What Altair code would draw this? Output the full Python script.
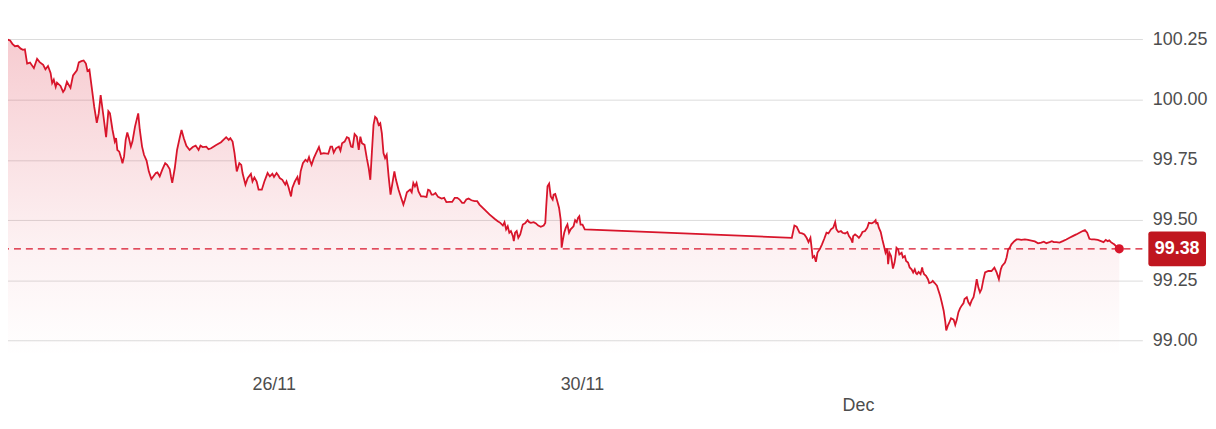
import altair as alt
import pandas as pd

# hours since the start of the window (22/11 ~12:00) and the price
hours = [
    0.0, 1.0, 1.9, 2.6, 3.4, 4.3, 5.2, 5.9, 6.5, 7.2, 8.1, 9.3, 10.3, 11.1, 12.2, 12.9,
    13.7, 14.5, 15.0, 15.5, 16.1, 16.5, 17.6, 18.4, 18.9, 19.6, 20.7, 21.5, 22.7, 23.3,
    24.1, 24.8, 25.5, 26.0, 26.6, 27.3, 28.1, 28.9, 29.5, 30.1, 31.0, 31.8, 32.5, 33.0,
    33.8, 34.5, 34.9, 35.3, 35.9, 36.5, 36.9, 37.4, 37.9, 38.4, 38.9, 39.5, 40.0, 40.8,
    41.8, 42.3, 43.0, 43.6, 44.4, 45.1, 45.9, 46.5, 47.3, 47.8, 48.5, 49.3, 50.2, 50.8,
    51.6, 52.0, 52.4, 53.2, 53.9, 54.7, 55.3, 56.0, 56.8, 57.8, 58.8, 59.7, 60.6, 61.2,
    61.9, 63.0, 63.7, 64.5, 66.1, 67.6, 69.2, 70.0, 70.5, 71.2, 71.8, 72.5, 73.3, 73.9,
    74.3, 75.2, 75.9, 76.9,
    77.4, 78.0, 78.7, 79.3, 80.3, 81.1, 82.1, 82.8, 83.6, 84.1, 84.9, 85.5, 85.9, 86.7,
    87.6, 88.0, 88.6, 89.4, 89.8, 90.6, 91.4, 91.9, 92.4, 93.1, 93.9, 94.5, 95.0, 95.3,
    95.8, 96.5, 97.2, 98.1, 98.7, 99.6, 101.0, 101.7, 102.2, 102.7, 103.4, 104.3, 104.8,
    105.3, 106.1, 106.8, 107.4, 108.1, 108.6, 109.2, 109.9, 110.5, 111.0, 111.5, 112.3,
    113.0, 113.6, 114.1, 114.6, 115.1, 115.6, 116.1, 116.7, 117.2, 117.7, 118.2, 118.7,
    119.2, 119.8, 120.4, 121.0, 121.6, 122.1, 122.9, 123.7, 124.4, 124.9, 125.5, 126.5,
    127.0, 127.5, 128.0, 128.5, 129.1, 129.9, 130.6, 131.6, 132.1, 132.6, 133.2, 133.7,
    134.4, 135.2, 136.3, 137.1, 137.8, 138.8, 139.6, 140.4, 141.2, 141.9, 142.7, 143.3,
    144.0, 144.7, 145.6, 146.6, 147.4, 148.1, 149.7, 151.2, 152.8, 153.8,
    154.6, 155.4, 155.9, 156.4, 156.9, 157.4, 157.9, 158.5, 158.8, 159.2, 159.7, 160.2,
    160.8, 161.6, 162.3, 163.1, 163.6, 164.1, 165.0, 165.7, 166.4, 167.2, 168.1, 168.6,
    168.9, 169.3, 169.8, 170.3, 170.9, 171.2, 171.7, 172.2, 172.9, 173.4, 173.7, 174.1,
    174.5, 175.0, 175.5, 176.0, 176.5, 177.4, 177.9, 178.4, 178.8, 179.2, 179.6, 180.2,
    180.9,
    245.4, 246.2, 246.9, 247.8, 248.6, 249.3, 250.0, 250.6, 251.2, 251.6, 251.9, 252.4,
    252.9, 253.4, 254.2, 254.8, 255.5, 256.2, 256.8, 257.6, 258.3, 258.9, 259.3, 259.9,
    260.7, 261.2, 262.0, 262.7, 263.2, 263.8, 264.3, 264.5, 265.1, 265.8, 266.3, 266.9,
    267.4, 268.2, 268.9, 269.4, 270.3, 271.0, 271.5, 271.7, 272.1, 272.5, 273.1, 273.6,
    274.1, 274.6, 275.1, 275.4, 275.8, 276.3, 276.9, 277.4, 277.7, 278.0, 278.5, 278.9,
    279.6, 280.0, 280.6, 281.0, 281.6, 282.1, 282.7, 283.2, 283.7, 284.1, 284.4, 284.9,
    285.5, 286.0, 286.2, 286.6, 287.2, 287.8, 288.2, 288.9, 289.3, 289.9, 290.6, 291.1,
    291.6, 292.1, 292.7, 293.2, 293.5, 294.0, 294.4, 295.0, 295.8, 296.3, 296.8, 297.3,
    297.8, 298.3, 298.9, 299.2, 299.9, 300.4, 300.9, 301.4, 302.0, 302.5, 303.0, 303.5,
    304.0, 304.5, 305.1, 305.6, 306.6, 307.6, 308.5, 309.2, 309.9, 310.5, 310.9, 311.8,
    312.3, 312.8, 313.3, 313.8, 314.7, 315.4, 316.1, 316.9, 318.0, 319.0, 320.0, 321.1,
    322.1, 323.1, 323.9, 324.7, 325.2, 325.7, 326.4, 327.0, 327.8, 328.8, 329.8, 330.9,
    331.9, 332.9, 334.0, 335.0, 336.0, 336.7, 337.4, 338.1, 338.8, 339.6, 340.7, 341.7,
    342.5, 343.2, 343.8, 344.3, 344.8, 345.3, 345.8, 346.3, 346.9, 347.4,
]
price = [
    100.242, 100.250, 100.246, 100.232, 100.222, 100.224, 100.212, 100.207, 100.209, 100.150,
    100.154, 100.131, 100.170, 100.156, 100.145, 100.126, 100.140, 100.111, 100.069, 100.083,
    100.053, 100.071, 100.057, 100.032, 100.042, 100.074, 100.049, 100.101, 100.122, 100.155,
    100.160, 100.163, 100.150, 100.119, 100.125, 100.053, 99.970, 99.904, 99.943, 100.019,
    99.929, 99.844, 99.952, 99.943, 99.874, 99.826, 99.840, 99.791, 99.784, 99.757,
    99.736, 99.764, 99.833, 99.864, 99.840, 99.805, 99.826, 99.888, 99.943, 99.874,
    99.805, 99.771, 99.747, 99.702, 99.670, 99.681, 99.695, 99.698, 99.681, 99.709,
    99.736, 99.729, 99.712, 99.681, 99.654, 99.716, 99.791, 99.840, 99.874, 99.840,
    99.808, 99.791, 99.803, 99.809, 99.791, 99.809, 99.803, 99.805, 99.794, 99.798,
    99.812, 99.823, 99.844, 99.833, 99.840, 99.826, 99.778, 99.702, 99.736, 99.729,
    99.695, 99.647, 99.674, 99.692,
    99.660, 99.677, 99.660, 99.626, 99.626, 99.660, 99.695, 99.681, 99.692, 99.679,
    99.695, 99.684, 99.674, 99.667, 99.647, 99.660, 99.637, 99.598, 99.633, 99.660,
    99.679, 99.647, 99.702, 99.736, 99.750, 99.743, 99.761, 99.747, 99.729, 99.757,
    99.778, 99.803, 99.775, 99.778, 99.775, 99.805, 99.805, 99.780, 99.798, 99.805,
    99.788, 99.819, 99.826, 99.844, 99.840, 99.805, 99.803, 99.857, 99.846, 99.791,
    99.846, 99.819, 99.812, 99.757, 99.716, 99.667, 99.784, 99.895, 99.929, 99.922,
    99.895, 99.902, 99.860, 99.778, 99.757, 99.771, 99.681, 99.605, 99.654, 99.702,
    99.667, 99.626, 99.592, 99.564, 99.585, 99.615, 99.626, 99.615, 99.654, 99.640,
    99.654, 99.619, 99.598, 99.598, 99.596, 99.626, 99.623, 99.605, 99.605, 99.612,
    99.596, 99.589, 99.592, 99.574, 99.575, 99.575, 99.592, 99.592, 99.585, 99.571,
    99.571, 99.585, 99.589, 99.582, 99.578, 99.578, 99.564, 99.543, 99.523, 99.505,
    99.495,
    99.488, 99.477, 99.491, 99.461, 99.474, 99.447, 99.454, 99.433, 99.412, 99.447,
    99.454, 99.426, 99.440, 99.481, 99.486, 99.499, 99.491, 99.488, 99.491, 99.486,
    99.477, 99.472, 99.477, 99.488, 99.557, 99.640, 99.651, 99.598, 99.585, 99.605,
    99.608, 99.585, 99.550, 99.502, 99.385, 99.419, 99.447, 99.468, 99.481, 99.447,
    99.461, 99.474, 99.499, 99.491, 99.509, 99.516, 99.481, 99.481, 99.461,
    99.426, 99.477, 99.472, 99.447, 99.444, 99.440, 99.426, 99.408, 99.426, 99.381,
    99.344, 99.350, 99.326, 99.365, 99.381, 99.399, 99.422, 99.447, 99.444, 99.461,
    99.468, 99.491, 99.461, 99.450, 99.454, 99.447, 99.444, 99.450, 99.433, 99.422,
    99.406, 99.433, 99.440, 99.433, 99.426, 99.436, 99.450, 99.454, 99.468, 99.488,
    99.486, 99.491, 99.499, 99.486, 99.488, 99.468, 99.450, 99.419, 99.392, 99.364,
    99.381, 99.316, 99.364, 99.350, 99.298, 99.323, 99.350, 99.385, 99.378, 99.357,
    99.364, 99.344, 99.350, 99.330, 99.323, 99.303, 99.295, 99.282, 99.295, 99.279,
    99.275, 99.284, 99.275, 99.303, 99.289, 99.275, 99.268, 99.254, 99.238, 99.241,
    99.247, 99.238, 99.227, 99.206, 99.185, 99.158, 99.123, 99.078, 99.041, 99.061,
    99.072, 99.092, 99.086, 99.064, 99.086, 99.117, 99.133, 99.144, 99.155, 99.172,
    99.179, 99.158, 99.147, 99.165, 99.179, 99.213, 99.254, 99.220, 99.199, 99.213,
    99.254, 99.282, 99.288, 99.288, 99.302, 99.282, 99.254, 99.295, 99.309, 99.323,
    99.344, 99.378, 99.385, 99.399, 99.412, 99.419, 99.419, 99.417, 99.419, 99.417,
    99.414, 99.411, 99.403, 99.406, 99.410, 99.403, 99.406, 99.408, 99.412, 99.408,
    99.408, 99.406, 99.412, 99.419, 99.426, 99.433, 99.440, 99.447, 99.454, 99.458,
    99.447, 99.422, 99.419, 99.419, 99.417, 99.412, 99.408, 99.417, 99.412, 99.415,
    99.408, 99.403, 99.399, 99.392, 99.385, 99.380,
]

tick_hours = [84, 180, 266]
tick_text = ["26/11", "30/11", "Dec"]
tick_row = [0, 0, 1]  # the month label sits on a second line

price_ticks = [99.0, 99.25, 99.5, 99.75, 100.0, 100.25]

RED = "#d8152b"
BOX = "#c0161f"
FONT = "Liberation Sans"
W, H = 1145, 350
y_lo, y_hi = 98.93, 100.376

# rounded box behind the last-price label (symbol path in the -1..1 square)
BOX_W = 58
BOX_PATH = (
    "M-0.9,-0.6 L0.9,-0.6 Q1,-0.6 1,-0.5 L1,0.5 Q1,0.6 0.9,0.6 "
    "L-0.9,0.6 Q-1,0.6 -1,0.5 L-1,-0.5 Q-1,-0.6 -0.9,-0.6 Z"
)

df = pd.DataFrame({"h": hours, "price": price})
last = df.tail(1).copy()
last["label"] = last["price"].map(lambda v: f"{v:.2f}")

label_expr = ""
for t, s, r in zip(tick_hours, tick_text, tick_row):
    txt = f"['', '{s}']" if r else f"'{s}'"
    label_expr += f"datum.value == {t} ? {txt} : "
label_expr += "''"

x_enc = alt.X(
    "h:Q",
    scale=alt.Scale(domain=[0, 354.6], nice=False, zero=False),
    axis=alt.Axis(
        values=tick_hours,
        labelExpr=label_expr,
        grid=False,
        domain=False,
        ticks=False,
        labelPadding=19,
        labelFontSize=18,
        labelFont=FONT,
        labelColor="#4d4d4d",
        labelLineHeight=21,
        labelFlush=False,
        title=None,
    ),
)
y_enc = alt.Y(
    "price:Q",
    scale=alt.Scale(domain=[y_lo, y_hi], nice=False, zero=False),
    axis=alt.Axis(
        orient="right",
        values=price_ticks,
        format=".2f",
        grid=True,
        gridColor="#dcdcdc",
        gridWidth=1,
        domain=False,
        ticks=False,
        labelPadding=10,
        labelFontSize=18,
        labelFont=FONT,
        labelColor="#4d4d4d",
        title=None,
    ),
)

base = alt.Chart(df)

area = base.mark_area(
    color=alt.Gradient(
        gradient="linear",
        stops=[
            alt.GradientStop(color="rgba(216,21,43,0.22)", offset=0),
            alt.GradientStop(color="rgba(216,21,43,0.06)", offset=0.65),
            alt.GradientStop(color="rgba(216,21,43,0)", offset=1),
        ],
        x1=1, x2=1, y1=0, y2=1,
    )
).encode(x=x_enc, y=y_enc, y2=alt.datum(y_lo))

line = base.mark_line(color=RED, strokeWidth=1.8).encode(x="h:Q", y="price:Q")

dash = alt.Chart(last).mark_rule(
    color=RED, strokeWidth=1.4, strokeDash=[7, 5]
).encode(y="price:Q")

dot = alt.Chart(last).mark_circle(color=RED, size=85, opacity=1).encode(
    x="h:Q", y="price:Q"
)

box = alt.Chart(last).mark_point(
    shape=BOX_PATH, size=BOX_W * BOX_W, filled=True, color=BOX, opacity=1, strokeWidth=0
).encode(x=alt.value(W + 6 + BOX_W / 2), y="price:Q")

box_text = alt.Chart(last).mark_text(
    color="white", font=FONT, fontSize=18, fontWeight="bold", align="center", baseline="middle"
).encode(x=alt.value(W + 6 + BOX_W / 2), y="price:Q", text="label:N")

chart = (
    alt.layer(area, line, dash, dot, box, box_text)
    .properties(width=W, height=H, padding={"left": -8, "top": 0, "right": 0, "bottom": 0})
    .configure_view(strokeWidth=0)
)

chart.save("out.html", embed_options={"renderer": "svg", "actions": False})
